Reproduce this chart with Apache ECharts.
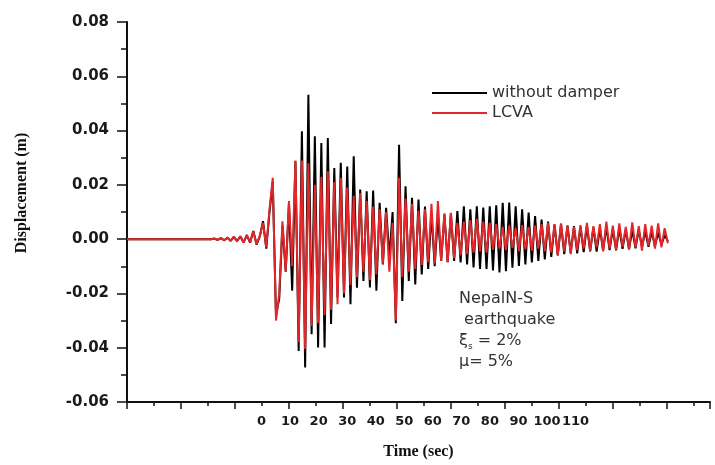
<!DOCTYPE html>
<html>
<head>
<meta charset="utf-8">
<title>Displacement - Nepal N-S</title>
<script src="https://cdn.jsdelivr.net/npm/echarts@6/dist/echarts.min.js"></script>
<style>
html,body{margin:0;padding:0;background:#fff;}
#main{width:715px;height:465px;}
</style>
</head>
<body>
<div id="main"></div>
<script>
// records are sampled every 0.6 time units of the plot
var sampleStep = 0.6;

// without damper (m)
var withoutDamper = [
	0,0,0,0,0,0,0,0,0,0,0,0,0,0,0,0,0,0,0,0,0,0,0,0,0,0,0,
	0.0002,-0.0003,0.0004,-0.0004,0.0005,-0.0006,0.0008,-0.0007,0.0010,-0.0012,
	0.0015,-0.0013,0.0030,-0.0020,0.0010,0.0066,-0.0035,0.0100,0.0210,-0.0280,
	-0.0220,0.0050,-0.0120,0.0130,-0.0190,0.0287,-0.0412,0.0397,-0.0473,0.0532,
	-0.0350,0.0379,-0.0399,0.0354,-0.0399,0.0373,-0.0313,0.0262,-0.0215,0.0281,
	-0.0215,0.0268,-0.0240,0.0305,-0.0179,0.0183,-0.0154,0.0176,-0.0178,0.0179,
	-0.0190,0.0134,-0.0093,0.0115,-0.0068,0.0100,-0.0310,0.0348,-0.0228,0.0195,
	-0.0154,0.0152,-0.0167,0.0146,-0.0130,0.0120,-0.0110,0.0095,-0.0100,0.0085,
	-0.0080,0.0090,-0.0085,0.0095,-0.0080,0.0103,-0.0086,0.0121,-0.0093,0.0110,
	-0.0104,0.0121,-0.0110,0.0116,-0.0110,0.0121,-0.0115,0.0125,-0.0123,0.0134,
	-0.0118,0.0135,-0.0105,0.0121,-0.0099,0.0110,-0.0093,0.0098,-0.0086,0.0085,
	-0.0080,0.0072,-0.0075,0.0065,-0.0065,0.0054,-0.0060,0.0055,-0.0055,0.0050,
	-0.0050,0.0048,-0.0052,0.0045,-0.0048,0.0050,-0.0045,0.0042,-0.0046,0.0040,
	-0.0042,0.0045,-0.0040,0.0038,-0.0041,0.0040,-0.0036,0.0035,-0.0038,0.0033,
	-0.0034,0.0035,-0.0030,0.0030,-0.0028,0.0027,-0.0025,0.0024,-0.0020,0.0015,
	-0.0008
];

// LCVA (m)
var lcva = [
	0,0,0,0,0,0,0,0,0,0,0,0,0,0,0,0,0,0,0,0,0,0,0,0,0,0,0,
	0.0002,-0.0003,0.0004,-0.0005,0.0006,-0.0006,0.0009,-0.0008,0.0011,-0.0013,
	0.0016,-0.0012,0.0028,-0.0018,0.0012,0.0060,-0.0030,0.0110,0.0226,-0.0300,
	-0.0200,0.0066,-0.0120,0.0140,-0.0100,0.0290,-0.0380,0.0290,-0.0405,0.0280,
	-0.0320,0.0200,-0.0310,0.0230,-0.0280,0.0250,-0.0260,0.0210,-0.0240,0.0226,
	-0.0200,0.0190,-0.0170,0.0160,-0.0140,0.0170,-0.0120,0.0140,-0.0150,0.0120,
	-0.0130,0.0110,-0.0090,0.0100,-0.0120,0.0060,-0.0300,0.0226,-0.0140,0.0150,
	-0.0120,0.0130,-0.0110,0.0105,-0.0095,0.0110,-0.0085,0.0130,-0.0090,0.0140,
	-0.0080,0.0095,-0.0085,0.0097,-0.0070,0.0060,-0.0060,0.0065,-0.0055,0.0070,
	-0.0050,0.0075,-0.0045,0.0065,-0.0050,0.0060,-0.0040,0.0055,-0.0035,0.0045,
	-0.0040,0.0050,-0.0032,0.0040,-0.0045,0.0052,-0.0038,0.0045,-0.0042,0.0050,
	-0.0035,0.0055,-0.0045,0.0060,-0.0050,0.0055,-0.0060,0.0058,-0.0045,0.0050,
	-0.0055,0.0045,-0.0040,0.0052,-0.0035,0.0060,-0.0042,0.0048,-0.0030,0.0055,
	-0.0045,0.0065,-0.0035,0.0050,-0.0040,0.0058,-0.0028,0.0045,-0.0038,0.0062,
	-0.0030,0.0048,-0.0042,0.0055,-0.0025,0.0050,-0.0035,0.0058,-0.0030,0.0040,
	-0.0015
];

// the printed time labels (they sit apart from the tick marks in the figure)
var timeLabels = [0, 10, 20, 30, 40, 50, 60, 70, 80, 90, 100, 110];

var seriesNames = ['without damper', 'LCVA'];

function toPoints(values) {
	var pts = [];
	for (var i = 0; i < values.length; i++) {
		pts.push([i * sampleStep, values[i]]);
	}
	return pts;
}

var labelFont = 'DejaVu Sans';
var myChart = echarts.init(document.getElementById('main'));
var option = {
	animation: false,
	backgroundColor: '#fff',
	grid: {
		left: 127,
		right: 5,
		top: 22,
		bottom: 62
	},
	legend: {
		data: seriesNames,
		orient: 'vertical',
		left: 427,
		top: 80,
		icon: 'rect',
		itemWidth: 55,
		itemHeight: 2,
		itemGap: 4,
		textStyle: {
			fontFamily: labelFont,
			fontSize: 16,
			lineHeight: 16,
			color: '#333'
		}
	},
	xAxis: [
		{
			type: 'value',
			min: 0,
			max: 108,
			interval: 10,
			position: 'bottom',
			name: 'Time (sec)',
			nameLocation: 'middle',
			nameGap: 42,
			nameTextStyle: {
				fontFamily: 'Liberation Serif',
				fontWeight: 'bold',
				fontSize: 16,
				color: '#111'
			},
			axisLine: { onZero: false, lineStyle: { color: '#111', width: 2 } },
			axisTick: { length: 7, lineStyle: { color: '#111', width: 1.5 } },
			minorTick: { show: true, splitNumber: 2, length: 4, lineStyle: { color: '#111', width: 1.5 } },
			axisLabel: { show: false },
			splitLine: { show: false }
		},
		{
			type: 'value',
			min: -47.14,
			max: 157.1,
			position: 'bottom',
			axisLine: { show: false },
			axisTick: { show: false },
			splitLine: { show: false },
			axisLabel: {
				customValues: timeLabels,
				hideOverlap: false,
				margin: 13,
				fontFamily: labelFont,
				fontWeight: 'bold',
				fontSize: 13,
				color: '#1a1a1a'
			}
		}
	],
	yAxis: {
		type: 'value',
		min: -0.06,
		max: 0.08,
		interval: 0.02,
		axisLine: { show: true, lineStyle: { color: '#111', width: 2 } },
		axisTick: { show: true, length: 10, lineStyle: { color: '#111', width: 1.5 } },
		minorTick: { show: true, splitNumber: 2, length: 6, lineStyle: { color: '#111', width: 1.5 } },
		splitLine: { show: false },
		axisLabel: {
			margin: 18,
			fontFamily: labelFont,
			fontWeight: 'bold',
			fontSize: 15,
			color: '#1a1a1a',
			formatter: function(v) { return v.toFixed(2); }
		}
	},
	graphic: [
		{
			type: 'text',
			x: 22,
			y: 193,
			rotation: Math.PI / 2,
			style: {
				text: 'Displacement (m)',
				align: 'center',
				verticalAlign: 'middle',
				fontFamily: 'Liberation Serif',
				fontWeight: 'bold',
				fontSize: 16,
				fill: '#111'
			}
		},
		{
			type: 'text',
			left: 459,
			top: 291,
			style: {
				text: '{a|NepalN-S}\n{a| earthquake}\n{a|ξ}{s|s}{a| = 2%}\n{a|μ= 5%}',
				rich: {
					a: { fontFamily: labelFont, fontSize: 16, lineHeight: 21, fill: '#333' },
					s: { fontFamily: labelFont, fontSize: 9, lineHeight: 21, fill: '#333', verticalAlign: 'bottom', padding: [8, 0, 0, 0] }
				}
			}
		}
	],
	series: [
		{
			name: seriesNames[0],
			type: 'line',
			xAxisIndex: 0,
			showSymbol: false,
			symbol: 'none',
			lineStyle: { color: '#000', width: 2 },
			itemStyle: { color: '#000' },
			data: toPoints(withoutDamper)
		},
		{
			name: seriesNames[1],
			type: 'line',
			xAxisIndex: 0,
			showSymbol: false,
			symbol: 'none',
			lineStyle: { color: '#e3262a', width: 2 },
			itemStyle: { color: '#e3262a' },
			data: toPoints(lcva)
		}
	]
};
myChart.setOption(option);
</script>
</body>
</html>
